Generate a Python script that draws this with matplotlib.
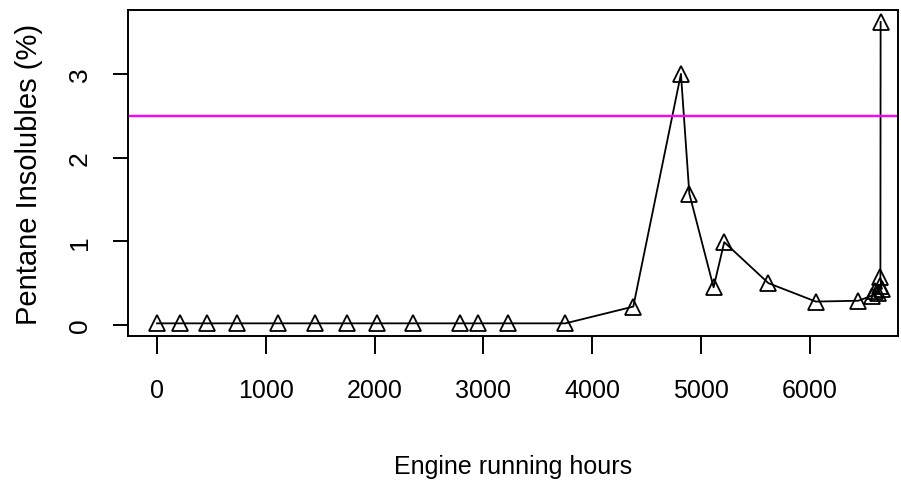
import matplotlib
matplotlib.use("Agg")
import matplotlib.pyplot as plt

plt.rcParams['font.family'] = ['Liberation Sans', 'DejaVu Sans']

# engine running hours and pentane insolubles readings
hours = [0, 208, 459, 735, 1114, 1451, 1745, 2020, 2357, 2780, 2951, 3227, 3753,
         4377, 4815, 4892, 5115, 5213, 5619, 6055, 6444,
         6570, 6600, 6625, 6645, 6660, 6648, 6650]
insolubles = [0.02, 0.02, 0.02, 0.02, 0.02, 0.02, 0.02, 0.02, 0.02, 0.02, 0.02, 0.02, 0.02,
              0.22, 3.0, 1.57, 0.45, 0.99, 0.50, 0.28, 0.29,
              0.35, 0.41, 0.38, 0.47, 0.43, 0.57, 3.62]
limit = 2.5
xticks = [0, 1000, 2000, 3000, 4000, 5000, 6000]
yticks = [0, 1, 2, 3]

fig = plt.figure(figsize=(9.01, 4.81), dpi=100)
ax = fig.add_axes([0.142, 0.2994, 0.8547, 0.6777])

ax.plot(hours, insolubles, color='black', lw=1.3, marker='^', ms=11.5,
        mfc='none', mec='black', mew=1.3)
ax.axhline(limit, color='#ff00ff', lw=1.7)

ax.set_xlim(-267, 6810)
ax.set_ylim(-0.131, 3.763)
ax.set_xticks(xticks)
ax.set_yticks(yticks)
ax.tick_params(axis='x', length=13, width=1.4, pad=17, labelsize=18)
ax.tick_params(axis='y', length=11, width=1.4, pad=15, labelsize=19, labelrotation=90)
for lab in ax.get_yticklabels():
    lab.set_va('center')
for s in ax.spines.values():
    s.set_linewidth(1.4)

ax.set_xlabel('Engine running hours', fontsize=18, labelpad=38)
ax.set_ylabel('Pentane Insolubles (%)', fontsize=21, labelpad=18)

fig.savefig('out.png', dpi=100)
